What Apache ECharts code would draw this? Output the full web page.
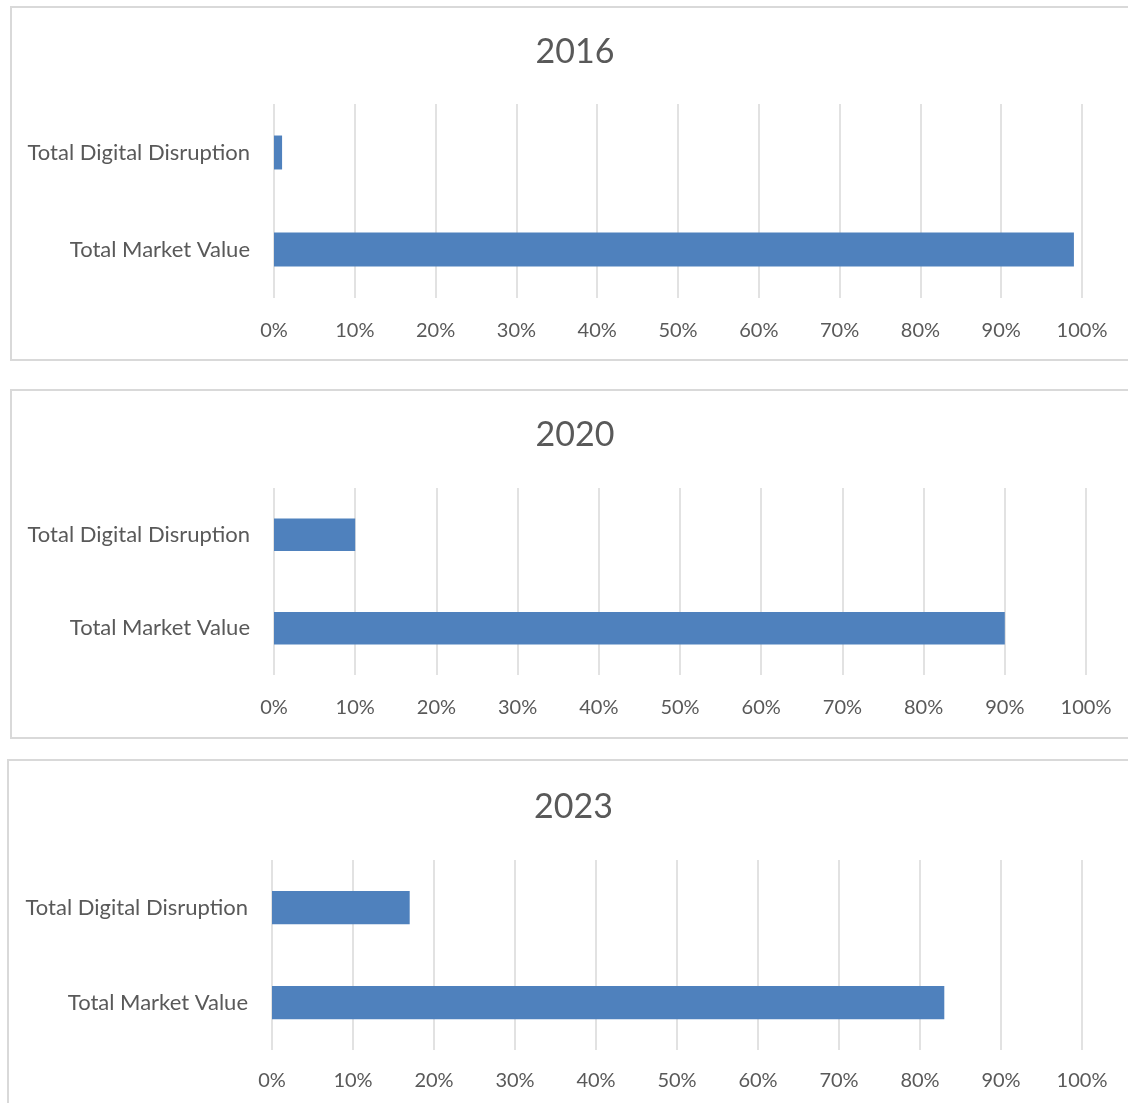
<!DOCTYPE html>
<html>
<head>
<meta charset="utf-8">
<script src="https://cdn.jsdelivr.net/npm/echarts@6/dist/echarts.min.js"></script>
<style>
  html, body { margin: 0; padding: 0; background: #fff; }
  body { width: 1128px; height: 1103px; position: relative; overflow: hidden; }
  .panel { position: absolute; box-sizing: border-box; border: 2px solid #d9d9d9; background: #fff; }
</style>
</head>
<body>
<div class="panel" id="p2016" style="left:10px; top:6px; width:1130px; height:355px;"></div>
<div class="panel" id="p2020" style="left:10px; top:389px; width:1130px; height:350px;"></div>
<div class="panel" id="p2023" style="left:7px; top:759px; width:1133px; height:360px;"></div>
<script>
// values in percent, one entry per year
const years = ['2016', '2020', '2023'];
const categories = ['Total Market Value', 'Total Digital Disruption'];
const marketValue = [99, 90, 83];
const digitalDisruption = [1, 10, 17];

// per panel layout inside its frame
const layouts = [
  { grid: { left: 262, top: 96, width: 808, height: 194 }, titleTop: 22, tickMargin: 23 },
  { grid: { left: 262, top: 97, width: 812, height: 187 }, titleTop: 22, tickMargin: 23 },
  { grid: { left: 263, top: 99, width: 810, height: 190 }, titleTop: 24, tickMargin: 21 }
];

const font = 'Lato, "Open Sans", sans-serif';
const textColor = '#595959';

years.forEach((year, i) => {
  const chart = echarts.init(document.getElementById('p' + year));
  const lay = layouts[i];
  chart.setOption({
    animation: false,
    title: {
      text: year,
      left: 'center',
      top: lay.titleTop,
      textStyle: { fontFamily: font, fontSize: 34, fontWeight: 'normal', color: textColor }
    },
    grid: lay.grid,
    xAxis: {
      type: 'value',
      min: 0,
      max: 100,
      interval: 10,
      axisLine: { show: false },
      axisTick: { show: false },
      axisLabel: {
        formatter: '{value}%',
        margin: lay.tickMargin,
        fontFamily: font,
        fontSize: 20,
        color: textColor
      },
      splitLine: { lineStyle: { color: '#d9d9d9', width: 1.5 } }
    },
    yAxis: {
      type: 'category',
      data: categories,
      axisLine: { show: false },
      axisTick: { show: false },
      axisLabel: {
        margin: 24,
        fontFamily: font,
        fontSize: 22,
        color: textColor
      }
    },
    series: [{
      type: 'bar',
      barWidth: '35%',
      itemStyle: { color: '#4f81bd' },
      data: [marketValue[i], digitalDisruption[i]]
    }]
  });
});
</script>
</body>
</html>
